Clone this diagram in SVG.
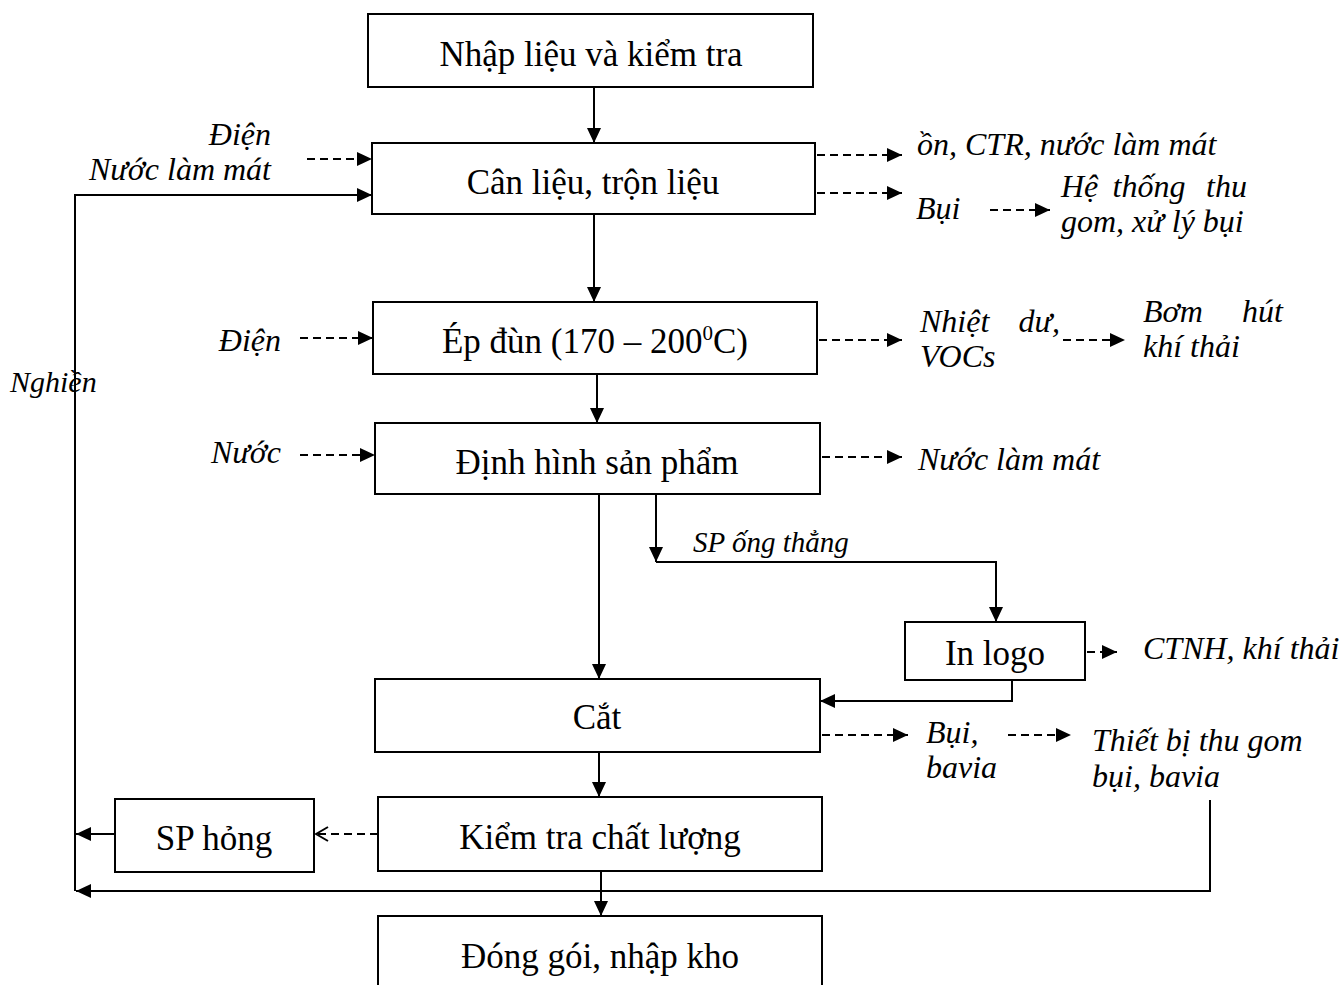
<svg xmlns="http://www.w3.org/2000/svg" width="1341" height="985" viewBox="0 0 1341 985">
<defs>
<style>
.box{fill:#fff;stroke:#000;stroke-width:2}
.t{font-family:"Liberation Serif","Times New Roman",serif;font-size:35px;fill:#000;text-anchor:middle}
.i{font-family:"Liberation Serif","Times New Roman",serif;font-size:32px;font-style:italic;fill:#000}
.s{fill:none;stroke:#000;stroke-width:2}
.d{fill:none;stroke:#000;stroke-width:2;stroke-dasharray:8,5}
</style>
<marker id="ah" viewBox="0 0 15 14" refX="15" refY="7" markerWidth="15" markerHeight="14" markerUnits="userSpaceOnUse" orient="auto">
<path d="M0,0 L15,7 L0,14 Z" fill="#000"/>
</marker>
<marker id="ao" viewBox="0 0 14 16" refX="13" refY="8" markerWidth="14" markerHeight="16" markerUnits="userSpaceOnUse" orient="auto">
<path d="M1,1 L13,8 L1,15" fill="none" stroke="#000" stroke-width="2"/>
</marker>
</defs>
<rect width="1341" height="985" fill="#fff"/>

<g id="connectors">
<line class="s" x1="594" y1="87" x2="594" y2="143" marker-end="url(#ah)"/>
<line class="s" x1="594" y1="214" x2="594" y2="302" marker-end="url(#ah)"/>
<line class="s" x1="597" y1="374" x2="597" y2="423" marker-end="url(#ah)"/>
<line class="s" x1="599" y1="494" x2="599" y2="679" marker-end="url(#ah)"/>
<line class="s" x1="656" y1="494" x2="656" y2="562" marker-end="url(#ah)"/>
<polyline class="s" points="656,562 996,562 996,622" marker-end="url(#ah)"/>
<polyline class="s" points="1012,680 1012,701 820,701" marker-end="url(#ah)"/>
<line class="s" x1="599" y1="752" x2="599" y2="797" marker-end="url(#ah)"/>
<line class="s" x1="601" y1="871" x2="601" y2="916" marker-end="url(#ah)"/>
<line class="d" x1="378" y1="834" x2="316" y2="834" marker-end="url(#ao)"/>
<line class="s" x1="115" y1="834" x2="76" y2="834" marker-end="url(#ah)"/>
<polyline class="s" points="1210,800 1210,891 76,891" marker-end="url(#ah)"/>
<polyline class="s" points="75,891 75,195 372,195" marker-end="url(#ah)"/>
<line class="d" x1="307" y1="159" x2="372" y2="159" marker-end="url(#ah)"/>
<line class="d" x1="300" y1="338" x2="373" y2="338" marker-end="url(#ah)"/>
<line class="d" x1="300" y1="455" x2="375" y2="455" marker-end="url(#ah)"/>
<line class="d" x1="817" y1="155" x2="902" y2="155" marker-end="url(#ah)"/>
<line class="d" x1="817" y1="193" x2="902" y2="193" marker-end="url(#ah)"/>
<line class="d" x1="990" y1="210" x2="1050" y2="210" marker-end="url(#ah)"/>
<line class="d" x1="819" y1="340" x2="902" y2="340" marker-end="url(#ah)"/>
<line class="d" x1="1063" y1="340" x2="1125" y2="340" marker-end="url(#ah)"/>
<line class="d" x1="822" y1="457" x2="902" y2="457" marker-end="url(#ah)"/>
<line class="d" x1="1087" y1="652" x2="1117" y2="652" marker-end="url(#ah)"/>
<line class="d" x1="822" y1="735" x2="908" y2="735" marker-end="url(#ah)"/>
<line class="d" x1="1008" y1="735" x2="1071" y2="735" marker-end="url(#ah)"/>
</g>

<g id="n1"><rect class="box" x="368" y="14" width="445" height="73"/><text class="t" x="591" y="66">Nhập liệu và kiểm tra</text></g>
<g id="n2"><rect class="box" x="372" y="143" width="443" height="71"/><text class="t" x="593" y="194">Cân liệu, trộn liệu</text></g>
<g id="n3"><rect class="box" x="373" y="302" width="444" height="72"/><text class="t" x="595" y="353">Ép đùn (170 – 200<tspan style="font-size:21px" dy="-13">0</tspan><tspan dy="13">C)</tspan></text></g>
<g id="n4"><rect class="box" x="375" y="423" width="445" height="71"/><text class="t" x="597" y="474">Định hình sản phẩm</text></g>
<g id="n5"><rect class="box" x="905" y="622" width="180" height="58"/><text class="t" x="995" y="665">In logo</text></g>
<g id="n6"><rect class="box" x="375" y="679" width="445" height="73"/><text class="t" x="597" y="729">Cắt</text></g>
<g id="n7"><rect class="box" x="378" y="797" width="444" height="74"/><text class="t" x="600" y="849">Kiểm tra chất lượng</text></g>
<g id="n8"><rect class="box" x="115" y="799" width="199" height="73"/><text class="t" x="214" y="850">SP hỏng</text></g>
<g id="n9"><path class="s" d="M378,990 L378,916 L822,916 L822,990"/><text class="t" x="600" y="968">Đóng gói, nhập kho</text></g>

<g id="labels">
<text class="i" x="271" y="145" text-anchor="end">Điện</text>
<text class="i" x="271" y="180" text-anchor="end">Nước làm mát</text>
<text class="i" x="281" y="351" text-anchor="end">Điện</text>
<text class="i" x="10" y="392" style="font-size:30px">Nghiền</text>
<text class="i" x="281" y="463" text-anchor="end">Nước</text>
<text class="i" x="917" y="155">ồn, CTR, nước làm mát</text>
<text class="i" x="916" y="219">Bụi</text>
<text class="i" x="1061" y="197">Hệ</text>
<text class="i" x="1149" y="197" text-anchor="middle">thống</text>
<text class="i" x="1247" y="197" text-anchor="end">thu</text>
<text class="i" x="1061" y="232">gom, xử lý bụi</text>
<text class="i" x="920" y="332">Nhiệt</text>
<text class="i" x="1060" y="332" text-anchor="end">dư,</text>
<text class="i" x="920" y="367">VOCs</text>
<text class="i" x="1143" y="322">Bơm</text>
<text class="i" x="1283" y="322" text-anchor="end">hút</text>
<text class="i" x="1143" y="357">khí thải</text>
<text class="i" x="918" y="470">Nước làm mát</text>
<text class="i" x="693" y="552" style="font-size:29px">SP ống thẳng</text>
<text class="i" x="1143" y="659">CTNH, khí thải</text>
<text class="i" x="926" y="743">Bụi,</text>
<text class="i" x="926" y="778">bavia</text>
<text class="i" x="1092" y="751">Thiết bị thu gom</text>
<text class="i" x="1092" y="787">bụi, bavia</text>
</g>
</svg>
